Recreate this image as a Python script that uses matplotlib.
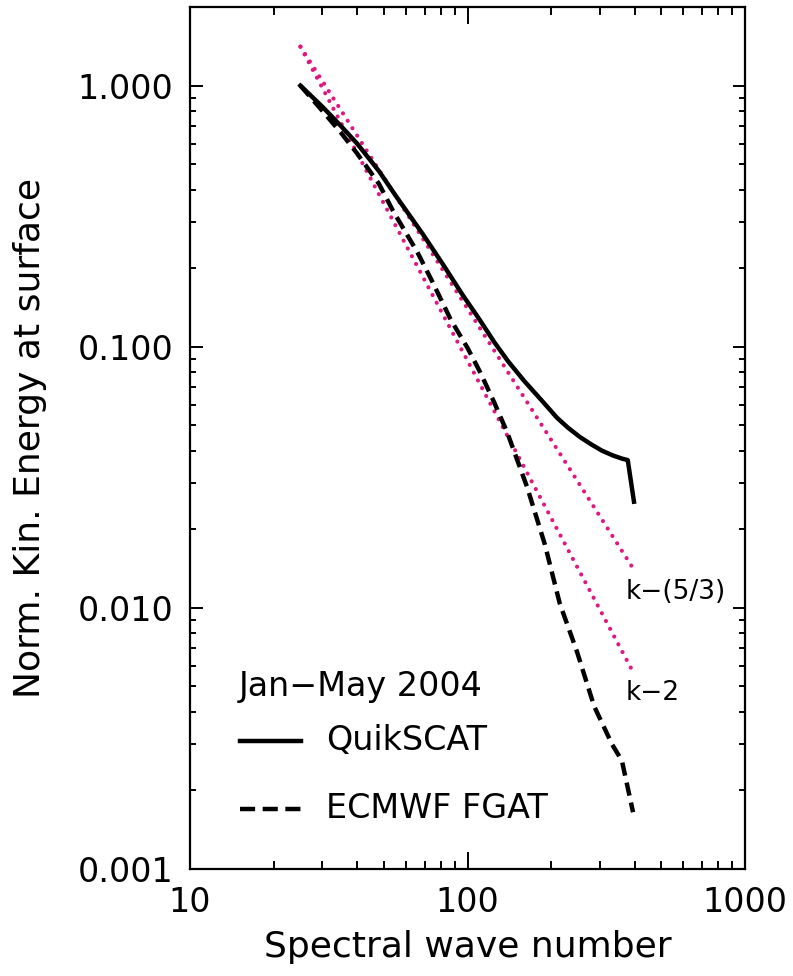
import numpy as np
import matplotlib.pyplot as plt
from matplotlib.ticker import FixedLocator, FixedFormatter, LogLocator, NullFormatter

plt.rcParams['font.family'] = ['DejaVu Sans']

# QuikSCAT spectrum (solid)
k_qscat = [25, 30, 35, 40, 48, 55, 69, 82, 96, 110, 125, 140, 160, 187, 210,
           230, 255, 280, 305, 335, 360, 378, 398]
e_qscat = [1.0, 0.83, 0.70, 0.60, 0.47, 0.38, 0.27, 0.205, 0.158, 0.128, 0.104,
           0.088, 0.074, 0.0615, 0.0535, 0.0490, 0.0450, 0.0422, 0.0400,
           0.0383, 0.0373, 0.0368, 0.0255]

# ECMWF FGAT spectrum (dashed)
k_ecmwf = [25, 30, 35, 40, 48, 54, 66, 75, 87, 100, 111, 125, 139, 164, 190,
           215, 248, 286, 332, 360, 395]
e_ecmwf = [1.0, 0.80, 0.66, 0.55, 0.42, 0.33, 0.23, 0.176, 0.127, 0.099, 0.080,
           0.061, 0.047, 0.029, 0.0175, 0.0104, 0.0068, 0.0042, 0.0030,
           0.0026, 0.00165]

# reference slopes (end points)
k_ref = [25, 398]
e_ref53 = [1.41, 0.014]
e_ref2 = [1.41, 0.0056]

pink = '#E0177F'
dots = (0, (0.01, 2.1))
dashes = (0, (3.0, 1.6))

fig = plt.figure(figsize=(7.93, 9.76), dpi=100)
ax = fig.add_axes([190/793, 1-869/976, 555/793, 862/976])

ax.plot(k_ref, e_ref53, color=pink, lw=3.0, linestyle=dots,
        dash_capstyle='round')
ax.plot(k_ref, e_ref2, color=pink, lw=3.0, linestyle=dots,
        dash_capstyle='round')
ax.plot(k_qscat, e_qscat, color='black', lw=3.2)
ax.plot(k_ecmwf, e_ecmwf, color='black', lw=3.2, linestyle=dashes)

ax.set_xscale('log')
ax.set_yscale('log')
ax.set_xlim(10, 1000)
ax.set_ylim(0.001, 2.0)

ax.yaxis.set_major_locator(FixedLocator([0.001, 0.01, 0.1, 1.0]))
ax.yaxis.set_major_formatter(FixedFormatter(['0.001', '0.010', '0.100', '1.000']))
ax.yaxis.set_minor_locator(LogLocator(base=10, subs=np.arange(2, 10)))
ax.yaxis.set_minor_formatter(NullFormatter())
ax.xaxis.set_major_locator(FixedLocator([10, 100, 1000]))
ax.xaxis.set_major_formatter(FixedFormatter(['10', '100', '1000']))
ax.xaxis.set_minor_locator(LogLocator(base=10, subs=np.arange(2, 10)))
ax.xaxis.set_minor_formatter(NullFormatter())

ax.tick_params(axis='x', which='major', direction='in', top=True, length=12,
               width=1.4, labelsize=24, pad=12)
ax.tick_params(axis='x', which='minor', direction='in', top=True, length=6,
               width=1.4)
ax.tick_params(axis='y', which='major', direction='in', right=True, length=9,
               width=1.4, labelsize=24, pad=12)
ax.tick_params(axis='y', which='minor', direction='in', right=True, length=4.5,
               width=1.4)
for s in ax.spines.values():
    s.set_linewidth(1.6)

ax.set_xlabel('Spectral wave number', fontsize=26, labelpad=8)
ax.set_ylabel('Norm. Kin. Energy at surface', fontsize=26, labelpad=22)

# slope labels
ax.text(372, 0.0115, 'k\u2212(5/3)', fontsize=19, ha='left', va='center')
ax.text(372, 0.0047, 'k\u22122', fontsize=19, ha='left', va='center')

# legend drawn as in the original figure
ax.text(15.0, 0.0050, 'Jan\u2212May 2004', fontsize=24, ha='left', va='center')
ax.plot([15.1, 25.1], [0.0031, 0.0031], color='black', lw=3.2)
ax.text(31, 0.0031, 'QuikSCAT', fontsize=24, ha='left', va='center')
ax.plot([15.1, 25.1], [0.0017, 0.0017], color='black', lw=3.2,
        linestyle=(0, (3.4, 1.7)))
ax.text(31, 0.0017, 'ECMWF FGAT', fontsize=24, ha='left', va='center')

fig.savefig('out.png', dpi=100)
